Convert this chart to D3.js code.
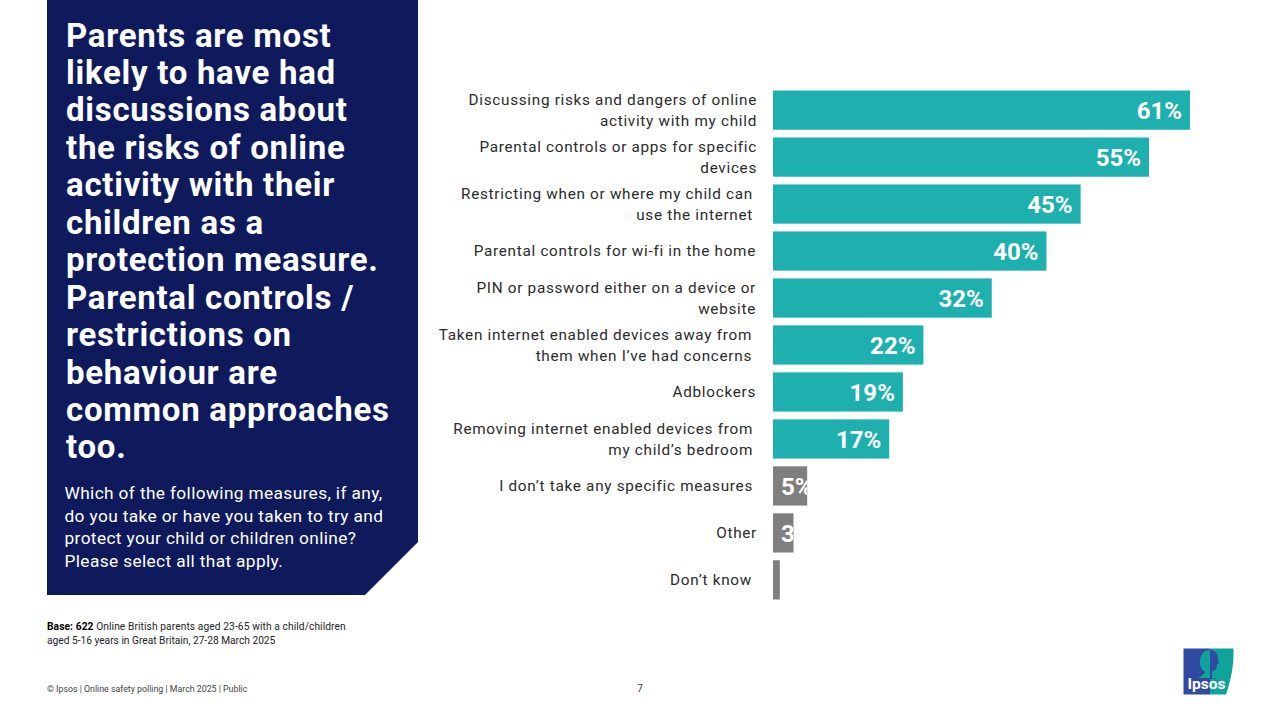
<!DOCTYPE html>
<html><head><meta charset="utf-8">
<script src="https://cdn.jsdelivr.net/npm/d3@7/dist/d3.min.js"></script>
<style>html,body{margin:0;padding:0;background:#fff;overflow:hidden}svg{display:block}text{font-family:Roboto,sans-serif}</style>
</head><body><svg id="c" width="1280" height="720"></svg>
<script>
const categories = [
  ["Discussing risks and dangers of online","activity with my child"],
  ["Parental controls or apps for specific","devices"],
  ["Restricting when or where my child can","use the internet"],
  ["Parental controls for wi-fi in the home"],
  ["PIN or password either on a device or","website"],
  ["Taken internet enabled devices away from","them when I’ve had concerns"],
  ["Adblockers"],
  ["Removing internet enabled devices from","my child’s bedroom"],
  ["I don’t take any specific measures"],
  ["Other"],
  ["Don’t know"]
];
const values = [61,55,45,40,32,22,19,17,5,3,1];
const seriesKind = ["main","main","main","main","main","main","main","main","other","other","other"];
const headline = ["Parents are most","likely to have had","discussions about","the risks of online","activity with their","children as a","protection measure.","Parental controls /","restrictions on","behaviour are","common approaches","too."];
const question = ["Which of the following measures, if any,","do you take or have you taken to try and","protect your child or children online?","Please select all that apply."];
const labelRight = [757,757,753,756,756,752,756,753,753,757,752];

const svg = d3.select("#c");
const x = d3.scaleLinear().domain([0,61]).range([773,1190]);
const y = d3.scaleBand().domain(d3.range(values.length)).range([90.5,599.5]).paddingInner(0.165).paddingOuter(0);
const color = d3.scaleOrdinal().domain(["main","other"]).range(["#1DB0AE","#7F7F7F"]);

// panel
svg.append("path").attr("d",d3.line()([[47,0],[418,0],[418,542],[365,595],[47,595]])+"Z").attr("fill","#0F1A5C");
svg.append("g").selectAll("text").data(headline).join("text")
  .attr("x",66).attr("y",(d,i)=>46.5+i*37.45).attr("fill","#fff")
  .attr("font-size",33).attr("font-weight",700).attr("letter-spacing",0.72).text(d=>d);
svg.append("g").selectAll("text").data(question).join("text")
  .attr("x",64.5).attr("y",(d,i)=>499+i*22.5).attr("fill","#fff")
  .attr("font-size",17.3).attr("letter-spacing",0.37).text(d=>d);

// bars
const defs = svg.append("defs");
values.forEach((v,i)=>{
  defs.append("clipPath").attr("id","b"+i).append("rect")
    .attr("x",x(0)).attr("y",y(i)).attr("width",x(v)-x(0)).attr("height",y.bandwidth());
});
svg.append("g").selectAll("rect").data(values).join("rect")
  .attr("x",x(0)).attr("y",(d,i)=>y(i)).attr("width",d=>x(d)-x(0)).attr("height",y.bandwidth())
  .attr("fill",(d,i)=>color(seriesKind[i]));
svg.append("g").selectAll("text").data(values).join("text")
  .attr("clip-path",(d,i)=>`url(#b${i})`)
  .attr("x",d=>d>=10?x(d)-8:x(0)+8)
  .attr("text-anchor",d=>d>=10?"end":"start")
  .attr("y",(d,i)=>y(i)+y.bandwidth()/2+9)
  .attr("fill","#fff").attr("font-size",24).attr("font-weight",700)
  .text(d=>d+"%");

// category labels
const cat = svg.append("g").selectAll("text").data(categories).join("text")
  .attr("text-anchor","end").attr("fill","#2b2b2b").attr("font-size",15.3).attr("letter-spacing",0.7);
cat.each(function(lines,i){
  const c = y(i)+y.bandwidth()/2, lh = 21;
  d3.select(this).selectAll("tspan").data(lines).join("tspan")
    .attr("x",labelRight[i])
    .attr("y",(d,j)=>c+5.2+(j-(lines.length-1)/2)*lh)
    .text(d=>d);
});

// footnote
const base = svg.append("text").attr("x",47).attr("y",630).attr("font-size",10.2).attr("letter-spacing",0.1).attr("fill","#222");
base.append("tspan").attr("font-weight",700).attr("fill","#000").text("Base: 622");
base.append("tspan").text(" Online British parents aged 23-65 with a child/children");
svg.append("text").attr("x",47).attr("y",644).attr("font-size",10.2).attr("fill","#222").text("aged 5-16 years in Great Britain, 27-28 March 2025");
svg.append("text").attr("x",47).attr("y",692).attr("font-size",8.8).attr("fill","#444").text("© Ipsos | Online safety polling | March 2025 | Public");
svg.append("text").attr("x",640).attr("y",692).attr("font-size",10).attr("text-anchor","middle").attr("fill","#333").text("7");

// logo
const logo = svg.append("g");
logo.append("path").attr("d","M1183.5 648.5H1210V694.5H1183.5Z").attr("fill","#2F4AA0");
logo.append("path").attr("d","M1210 648.5H1233.5C1234 665 1231 680 1226 694.5H1210Z").attr("fill","#0FA39B");
logo.append("path").attr("d","M1210 650C1202 650 1200 657 1200 662C1200 668 1203 671 1205 672C1204 675 1201 676 1198 678H1210Z").attr("fill","#0FA39B");
logo.append("path").attr("d","M1210 650C1216 650 1218 655 1218 659L1219 663L1217 664C1217 669 1215 671 1212 671L1212 678H1220L1210 679Z").attr("fill","#2F4AA0");
logo.append("text").attr("x",1187.5).attr("y",689).attr("font-size",15.5).attr("font-weight",700).attr("fill","#fff").text("Ipsos");
</script></body></html>
